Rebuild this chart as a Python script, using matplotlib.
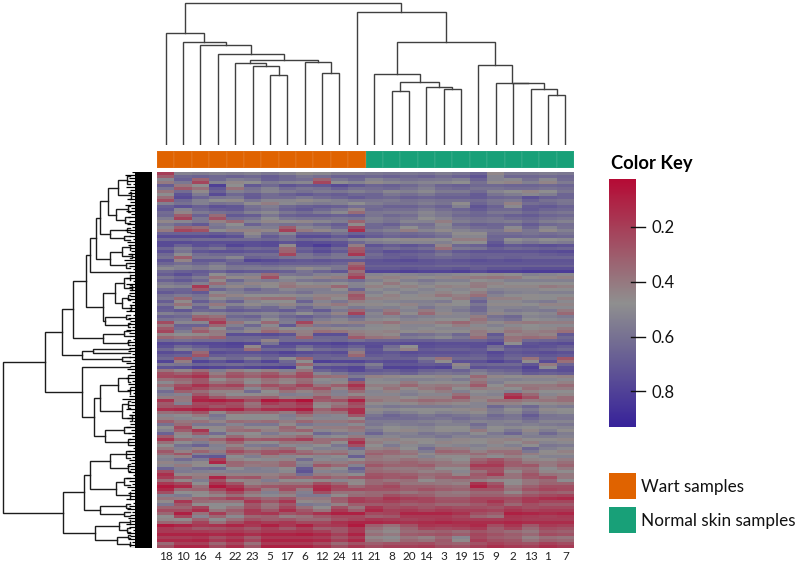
import numpy as np
import matplotlib
matplotlib.use("Agg")
import matplotlib.pyplot as plt
from matplotlib.colors import LinearSegmentedColormap, ListedColormap, Normalize
from matplotlib.cm import ScalarMappable
from matplotlib.patches import Rectangle

plt.rcParams['font.family'] = ['Lato', 'DejaVu Sans']

W, H = 796, 561

col_labels = ["18", "10", "16", "4", "22", "23", "5", "17", "6", "12", "24", "11",
              "21", "8", "20", "14", "3", "19", "15", "9", "2", "13", "1", "7"]
col_groups = [0] * 12 + [1] * 12
legend_labels = ["Wart samples", "Normal skin samples"]
key_ticks = [0.2, 0.4, 0.6, 0.8]
key_min, key_max = 0.025, 0.93

# methylation values x100 (12 wart, 12 normal)
beta_pct = [
    [25, 58, 60, 58, 60, 58, 62, 58, 52, 55, 60, 60, 60, 62, 60, 62, 58, 62, 68, 48, 60, 60, 58, 60],
    [48, 64, 30, 60, 52, 55, 64, 60, 58, 30, 55, 60, 50, 55, 58, 56, 55, 52, 64, 50, 48, 58, 48, 60],
    [60, 32, 40, 72, 40, 62, 55, 64, 60, 62, 68, 62, 62, 64, 60, 55, 62, 64, 60, 60, 62, 62, 60, 62],
    [45, 68, 52, 72, 60, 64, 58, 62, 66, 62, 64, 60, 62, 55, 58, 54, 60, 60, 66, 56, 52, 48, 52, 62],
    [30, 68, 58, 52, 50, 62, 55, 55, 50, 55, 58, 62, 60, 58, 62, 60, 62, 62, 64, 60, 58, 68, 62, 60],
    [62, 68, 62, 68, 66, 55, 50, 58, 62, 64, 62, 56, 58, 62, 62, 58, 62, 50, 68, 62, 46, 64, 66, 62],
    [68, 50, 62, 66, 68, 60, 56, 64, 68, 62, 56, 42, 62, 60, 60, 55, 60, 64, 68, 62, 62, 68, 64, 62],
    [58, 25, 60, 30, 64, 62, 52, 60, 62, 62, 60, 62, 56, 60, 58, 50, 54, 60, 62, 60, 64, 66, 62, 60],
    [50, 56, 62, 48, 40, 58, 50, 52, 50, 56, 60, 38, 58, 62, 55, 56, 45, 58, 62, 60, 58, 64, 58, 56],
    [48, 30, 34, 56, 50, 50, 52, 28, 48, 52, 60, 22, 62, 58, 46, 56, 50, 56, 60, 62, 48, 62, 50, 58],
    [68, 68, 68, 70, 66, 48, 62, 54, 68, 68, 62, 68, 66, 62, 64, 62, 58, 48, 48, 62, 62, 60, 62, 60],
    [72, 72, 70, 70, 70, 70, 72, 68, 72, 70, 68, 60, 54, 52, 50, 50, 52, 46, 46, 68, 52, 56, 52, 54],
    [70, 60, 68, 64, 72, 68, 70, 40, 70, 76, 68, 36, 68, 64, 68, 64, 40, 60, 62, 70, 66, 68, 70, 68],
    [70, 56, 68, 70, 70, 68, 68, 30, 66, 72, 66, 25, 66, 72, 70, 68, 62, 68, 70, 70, 70, 70, 72, 74],
    [64, 36, 62, 62, 55, 70, 68, 64, 62, 64, 62, 62, 68, 70, 72, 68, 66, 68, 70, 68, 70, 68, 68, 68],
    [60, 56, 60, 54, 62, 62, 64, 62, 62, 62, 60, 32, 68, 68, 68, 68, 66, 66, 68, 68, 68, 68, 68, 68],
    [56, 60, 62, 58, 64, 62, 62, 60, 52, 58, 64, 30, 74, 74, 76, 74, 74, 76, 72, 76, 76, 78, 78, 78],
    [66, 72, 64, 46, 54, 52, 34, 56, 58, 52, 50, 28, 50, 48, 50, 52, 50, 48, 46, 44, 46, 52, 50, 48],
    [60, 64, 58, 40, 58, 48, 50, 46, 52, 54, 52, 56, 50, 42, 50, 54, 50, 50, 44, 46, 50, 50, 50, 50],
    [58, 60, 26, 60, 52, 60, 54, 46, 50, 50, 42, 60, 46, 50, 46, 50, 46, 48, 44, 50, 48, 48, 44, 46],
    [62, 58, 62, 42, 46, 50, 50, 48, 52, 46, 46, 30, 50, 44, 50, 46, 40, 44, 38, 54, 50, 48, 50, 50],
    [62, 40, 62, 52, 60, 46, 42, 42, 60, 46, 52, 36, 46, 48, 50, 50, 52, 44, 62, 46, 46, 50, 52, 46],
    [66, 46, 64, 48, 60, 54, 60, 52, 62, 52, 48, 54, 50, 52, 48, 56, 50, 52, 62, 50, 50, 52, 48, 48],
    [60, 64, 56, 58, 62, 60, 58, 62, 54, 62, 50, 28, 54, 38, 50, 38, 48, 54, 60, 48, 54, 52, 54, 38],
    [62, 60, 30, 34, 60, 62, 52, 60, 64, 58, 54, 60, 52, 50, 54, 52, 50, 50, 40, 58, 62, 50, 52, 54],
    [32, 58, 58, 26, 46, 56, 42, 62, 30, 50, 52, 50, 46, 42, 48, 48, 44, 38, 46, 50, 46, 44, 46, 46],
    [28, 60, 36, 46, 60, 50, 40, 46, 48, 42, 44, 48, 48, 46, 50, 48, 50, 50, 44, 48, 42, 46, 44, 40],
    [38, 42, 40, 36, 68, 68, 70, 66, 36, 68, 68, 34, 40, 42, 58, 56, 52, 60, 38, 66, 40, 38, 40, 66],
    [70, 68, 70, 70, 72, 70, 52, 70, 70, 70, 72, 68, 70, 70, 72, 72, 70, 70, 70, 74, 44, 68, 70, 72],
    [70, 60, 66, 72, 74, 42, 70, 70, 60, 68, 70, 64, 74, 60, 46, 72, 70, 70, 72, 60, 70, 72, 70, 66],
    [70, 68, 30, 70, 68, 68, 70, 74, 70, 68, 70, 36, 70, 68, 72, 70, 70, 70, 68, 74, 68, 70, 72, 70],
    [70, 34, 70, 64, 70, 62, 70, 56, 40, 72, 70, 70, 68, 70, 70, 60, 42, 68, 68, 74, 68, 42, 70, 32],
    [66, 68, 74, 72, 70, 72, 74, 76, 42, 68, 70, 72, 60, 76, 76, 74, 76, 50, 70, 68, 68, 76, 46, 70],
    [30, 36, 28, 46, 34, 40, 34, 44, 30, 56, 62, 68, 66, 64, 68, 62, 60, 62, 54, 60, 62, 70, 68, 70],
    [30, 28, 22, 40, 32, 38, 30, 36, 30, 42, 44, 62, 46, 48, 50, 50, 48, 52, 38, 48, 50, 48, 48, 46],
    [45, 34, 24, 34, 30, 44, 34, 40, 30, 46, 40, 24, 46, 46, 38, 46, 44, 46, 34, 52, 44, 44, 44, 40],
    [54, 24, 28, 36, 36, 54, 40, 30, 36, 30, 46, 28, 48, 40, 48, 42, 38, 50, 44, 46, 50, 40, 44, 44],
    [48, 46, 22, 34, 42, 40, 38, 48, 46, 34, 46, 38, 46, 46, 50, 46, 46, 32, 46, 48, 16, 30, 46, 40],
    [26, 50, 20, 18, 22, 34, 16, 22, 14, 40, 36, 20, 44, 48, 44, 40, 42, 44, 50, 42, 42, 46, 44, 42],
    [22, 20, 16, 22, 18, 30, 22, 20, 16, 40, 30, 22, 50, 54, 52, 52, 52, 50, 48, 60, 52, 60, 50, 52],
    [42, 40, 32, 50, 38, 40, 40, 46, 30, 44, 42, 20, 54, 60, 56, 52, 56, 54, 50, 58, 54, 64, 54, 52],
    [40, 48, 46, 52, 44, 46, 44, 50, 42, 48, 48, 44, 60, 60, 60, 58, 56, 60, 56, 58, 56, 62, 56, 56],
    [52, 28, 50, 50, 44, 50, 50, 38, 50, 46, 46, 42, 54, 50, 52, 54, 50, 50, 58, 50, 52, 50, 52, 54],
    [60, 38, 24, 56, 44, 42, 50, 44, 40, 58, 52, 48, 62, 52, 50, 56, 52, 54, 46, 54, 62, 50, 60, 52],
    [26, 44, 48, 42, 30, 40, 38, 36, 30, 46, 44, 36, 50, 48, 52, 52, 56, 50, 52, 50, 48, 52, 52, 50],
    [40, 52, 58, 46, 36, 48, 50, 42, 44, 40, 50, 18, 44, 52, 46, 50, 46, 48, 50, 46, 50, 44, 54, 52],
    [34, 48, 38, 46, 30, 38, 34, 30, 42, 48, 46, 56, 40, 38, 44, 58, 36, 38, 46, 40, 40, 60, 50, 46],
    [44, 36, 62, 64, 42, 48, 36, 44, 40, 44, 42, 60, 36, 40, 42, 50, 44, 44, 40, 46, 40, 46, 50, 50],
    [50, 58, 52, 18, 40, 44, 46, 40, 58, 46, 48, 44, 38, 40, 36, 40, 42, 46, 32, 26, 34, 42, 44, 40],
    [60, 50, 56, 58, 44, 50, 48, 42, 64, 38, 44, 62, 34, 38, 38, 36, 44, 44, 24, 24, 36, 34, 46, 38],
    [18, 48, 46, 44, 46, 46, 46, 42, 64, 44, 46, 52, 30, 32, 34, 38, 36, 46, 32, 22, 40, 30, 40, 42],
    [26, 36, 46, 18, 36, 34, 46, 38, 40, 36, 42, 36, 30, 34, 32, 42, 36, 34, 36, 40, 42, 34, 30, 44],
    [14, 20, 44, 14, 24, 40, 36, 34, 34, 22, 30, 42, 32, 28, 36, 36, 38, 40, 14, 26, 44, 36, 30, 30],
    [18, 40, 38, 28, 16, 30, 46, 30, 46, 18, 30, 30, 30, 30, 34, 30, 34, 36, 30, 30, 40, 30, 26, 28],
    [48, 50, 42, 38, 30, 38, 44, 38, 50, 50, 40, 30, 30, 22, 26, 28, 34, 34, 28, 28, 30, 24, 20, 18],
    [50, 22, 40, 42, 42, 22, 32, 22, 50, 48, 36, 24, 26, 24, 28, 26, 30, 30, 26, 20, 30, 22, 26, 26],
    [30, 30, 20, 44, 36, 24, 34, 20, 34, 44, 24, 36, 16, 24, 22, 26, 22, 24, 24, 26, 20, 24, 22, 22],
    [42, 18, 46, 28, 44, 28, 26, 36, 32, 24, 18, 18, 28, 26, 16, 16, 16, 20, 30, 34, 14, 16, 18, 16],
    [38, 40, 26, 42, 30, 20, 24, 22, 28, 28, 20, 16, 14, 16, 18, 16, 14, 16, 16, 16, 14, 16, 16, 16],
    [14, 18, 24, 22, 18, 24, 16, 24, 16, 26, 24, 14, 34, 40, 30, 20, 22, 20, 16, 28, 20, 32, 22, 24],
    [16, 16, 16, 18, 16, 20, 16, 16, 14, 18, 26, 16, 40, 44, 34, 32, 30, 34, 26, 30, 34, 38, 28, 30],
    [16, 16, 14, 22, 16, 26, 14, 14, 14, 16, 24, 16, 42, 46, 36, 40, 32, 48, 22, 28, 30, 40, 34, 36],
    [30, 16, 16, 28, 18, 32, 14, 14, 14, 20, 30, 22, 28, 24, 24, 22, 28, 30, 24, 18, 22, 24, 18, 22],
]

# finer stripes inside each band, x100, two per band (wart columns, normal columns)
wart_stripes = [-5, 6, 3, -7, 8, -2, -6, 4, 7, -4, -8, 5, 2, -6, 6, -3, -5, 8, 3, -7,
                -2, 7, -8, 4, 6, -5, 3, -7, -4, 8, 5, -3, -6, 7, 2, -8, 6, -4, -7, 5,
                8, -2, -5, 6, -8, 3, 7, -6, 4, -3, -7, 8, 2, -5, 6, -4, -8, 7, 3, -6,
                5, -2, -7, 8, -9, 6, 9, -4, -6, 7, 5, -8, -3, 8, 7, -6, -9, 4, 6, -7,
                -5, 9, 3, -8, 8, -4, -7, 6, 5, -9, -3, 8, 6, -5, -8, 7, 4, -6, -9, 5,
                8, -3, -6, 9, 4, -7, -5, 8, 6, -9, -4, 7, 3, -5, -8, 6, 7, -4, -6, 5,
                3, -5, 4, -3, 5, -4]
norm_stripes = [-3, 4, 2, -4, 3, -1, -4, 3, 5, -2, -3, 4, 1, -4, 3, -2, -3, 5, 2, -4,
                -1, 3, -4, 2, 4, -3, 2, -4, -3, 4, 3, -2, -4, 4, 2, -5, 4, -2, -3, 3,
                4, -1, -3, 4, -4, 2, 3, -3, 2, -2, -4, 4, 1, -3, 4, -2, -5, 4, 2, -3,
                3, -1, -4, 5, -5, 3, 4, -2, -3, 4, 3, -4, -2, 4, 5, -3, -5, 2, 4, -4,
                -3, 5, 2, -4, 4, -2, -5, 3, 3, -5, -2, 4, 4, -3, -4, 3, 2, -3, -5, 3,
                5, -2, -4, 5, 3, -4, -3, 5, 4, -5, -3, 4, 2, -3, -4, 3, 4, -2, -3, 3,
                2, -3, 3, -2, 3, -3]

# column tree: (merge height, left, right), a leaf is the column position
wart_tree = (112.3, 0, (102.7, 1, (100, 2, (91, 3, (85.3, (81.7, 4, (79.3, 5, (70, 6, 7))),
                                                   (83, 8, (72, 9, 10)))))))
norm_left = (71, 12, (62.7, (54, 13, 14), (58, 15, (56.3, 16, 17))))
norm_right = (80, 18, (62.3, 19, (61.7, 20, (56.3, 21, (50.3, 22, 23)))))
col_tree = (142.3, wart_tree, (132.7, 11, (103.3, norm_left, norm_right)))

# row tree: (merge distance, upper, lower), a leaf is the size of a cluster in rows
a1 = (44, (34, (25, 8, 8), (21, 7, 7)), (36, (24, 8, 4), (27, 6, 6)))
a2 = (42, (25, 4, 4), (28, 4, 4))
a3 = (42, (30, (22, 5, 5), (20, 4, 4)), (26, 5, 5))
a5 = (37, (28, (22, 5, 5), (20, 5, 5)), (30, (24, 5, 5), (21, 5, 5)))
a6 = (47, (26, 4, 4), (24, 4, 4))
a7 = (49, (28, 5, 4), (24, 5, 4))
a8 = (70, (59, 4, 4), (30, 4, 4))
b1 = (52, (34, (24, 7, 7), (22, 6, 6)), (30, (24, 7, 7), (20, 7, 6)))
b2 = (47, (28, 6, 6), (24, 6, 5))
c1a = (62, (42, (26, 7, 6), (24, 7, 7)), (36, (28, 7, 7), (22, 7, 6)))
c1b = (52, (26, 4, 4), (28, 4, 4))
c2 = (57, (33, (22, 4, 4), (25, 4, 4)), (35, (24, 3, 3), (22, 4, 4)))
n86 = (66, (62, (56, (52.3, a1, a2), a3), 2), (49, a5, a6))
n62 = (90, (79, n86, a7), a8)
n82 = (70, 8, (58, b1, b2))
row_tree = (149, (107, n62, n82), (89, (68, c1a, c1b), c2))
row_total = 374

# how far the leaf lines reach left of the heatmap, top to bottom
leaf_reach = [20, 27, 23, 25, 19, 26, 22, 24, 20, 25, 22, 27, 21, 26, 21, 24, 23, 25, 20, 27, 22, 23, 19, 25, 24,
              22, 21, 24, 20, 28, 23, 23, 19, 24, 22, 26, 19, 26, 23, 21, 23, 22, 25, 20, 22, 23, 26, 19, 24, 22,
              24, 20, 26, 23, 22, 19, 25, 21, 23, 24, 20, 23, 19, 26, 22, 25, 21, 23, 26, 20, 24, 22, 25, 19, 23,
              30, 21, 24, 26, 20, 23, 25, 19, 22, 26, 21, 24, 20, 23, 25, 22, 19, 24, 26, 20, 23, 21, 25, 22, 24,
              19, 26, 23, 20, 25, 21, 24, 22, 26, 19, 23, 25, 20, 22, 24, 21, 26, 23, 19, 25, 22, 24, 20, 23, 21]
leaf_solid = 17

red_blue = LinearSegmentedColormap.from_list("rb", ["#B50B35", "#8F8F8F", "#37229A"])
norm = Normalize(key_min, key_max)


def px_axes(x0, y0, x1, y1):
    # axes placed by pixel box, y counted from the top of the picture
    return fig.add_axes([x0 / W, 1 - y1 / H, (x1 - x0) / W, (y1 - y0) / H])


def draw_col_node(ax, node):
    if isinstance(node, int):
        return node + 0.5, 0
    h, left, right = node
    x1, h1 = draw_col_node(ax, left)
    x2, h2 = draw_col_node(ax, right)
    ax.plot([x1, x1, x2, x2], [h1, h, h, h2], color="#404040", lw=1.0, solid_joinstyle="miter")
    return (x1 + x2) / 2, h


def draw_row_node(ax, node, start):
    # returns attach position, distance and the next free row
    if isinstance(node, int):
        return start + node / 2, 22, start + node
    d, upper, lower = node
    y1, d1, nxt = draw_row_node(ax, upper, start)
    y2, d2, nxt = draw_row_node(ax, lower, nxt)
    ax.plot([d1, d, d, d2], [y1, y1, y2, y2], color="#1c1c1c", lw=1.0, solid_joinstyle="miter")
    return (y1 + y2) / 2, d, nxt


fig = plt.figure(figsize=(W / 100, H / 100), dpi=100)

# heatmap: each band is split in two rows, which take the stripes
ax = px_axes(157, 172, 574, 548)
values = np.repeat(np.array(beta_pct, dtype=float), 2, axis=0)
values[:, :12] += np.array(wart_stripes)[:, None]
values[:, 12:] += np.array(norm_stripes)[:, None]
ax.imshow(values / 100, cmap=red_blue, norm=norm, aspect="auto", interpolation="nearest")
ax.set_xticks(range(len(col_labels)))
ax.set_xticklabels(col_labels, fontsize=8.5, color="#222222")
ax.set_yticks([])
ax.tick_params(axis="x", length=0, pad=2.5)
for s in ax.spines.values():
    s.set_visible(False)

# group colour strip
strip = px_axes(157, 151, 574, 168)
group_cmap = ListedColormap(["#E06300", "#18A078"])
strip.pcolormesh(np.array([col_groups]), cmap=group_cmap, edgecolors=(1, 1, 1, 0.05), linewidth=0.3)
strip.axis("off")

# column dendrogram
top = px_axes(157, 0, 574, 145)
top.set_xlim(0, len(col_labels))
top.set_ylim(0, 145)
draw_col_node(top, col_tree)
top.axis("off")

# row dendrogram
side = px_axes(0, 172, 152, 548)
side.set_xlim(152, 0)
side.set_ylim(row_total, 0)
draw_row_node(side, row_tree, 0)
leaf_y = np.linspace(0, row_total, len(leaf_reach))
side.hlines(leaf_y, 0, leaf_reach, color="black", lw=0.9)
side.axvspan(0, leaf_solid, color="black", lw=0)
side.axis("off")

# colour key
cax = px_axes(609, 179, 636, 427)
cb = fig.colorbar(ScalarMappable(norm=norm, cmap=red_blue), cax=cax)
cb.outline.set_visible(False)
cax.invert_yaxis()
cax.set_yticks(key_ticks)
cax.set_yticklabels([str(t) for t in key_ticks], fontsize=12, color="#111111")
cax.tick_params(axis="y", length=0, pad=11)
for t in key_ticks:
    cax.plot([0.81, 1.32], [t, t], color="#111111", lw=1, clip_on=False, transform=cax.get_yaxis_transform())

fig.text(611 / W, 1 - 163 / H, "Color Key", fontsize=13.2, fontweight="bold", color="black", va="center")

# legend
for name, colour, y0 in zip(legend_labels, group_cmap.colors, [473, 507]):
    fig.add_artist(Rectangle((609 / W, 1 - (y0 + 26) / H), 27 / W, 26 / H, color=colour,
                             transform=fig.transFigure, lw=0))
    fig.text(641 / W, 1 - (y0 + 14) / H, name, fontsize=12.3, color="#111111", va="center")

fig.savefig("out.png", dpi=100)
